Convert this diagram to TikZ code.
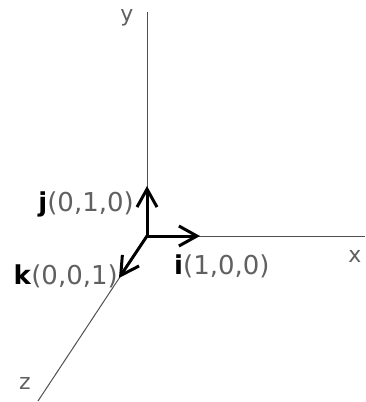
\documentclass[tikz,border=0pt]{standalone}
\usepackage{fontspec}
\setmainfont{DejaVu Sans}
\usetikzlibrary{arrows.meta}
\definecolor{axisgray}{HTML}{505050}
\definecolor{txtgray}{HTML}{606060}
\tikzset{
  axis/.style={draw=axisgray, line width=1pt},
  unitvec/.style={draw=black, line width=3pt, -{Straight Barb[length=18pt,width=20pt,line width=3pt]}},
  lbl/.style={inner sep=0pt, text=txtgray, font=\fontsize{26}{30}\selectfont},
  axlbl/.style={inner sep=0pt, text=txtgray, font=\fontsize{22}{26}\selectfont}
}
\begin{document}
\begin{tikzpicture}[x=1pt,y=-1pt]
\useasboundingbox (0,0) rectangle (365,402);
\coordinate (O) at (147,236);
\coordinate (Ytop) at (147,12);
\coordinate (Xend) at (365,236);
\coordinate (Zend) at (38,401);
\coordinate (I) at (200,236);
\coordinate (J) at (147,186);
\coordinate (K) at (119,278);
\draw[axis] (O) -- (Ytop);
\draw[axis] (O) -- (Xend);
\draw[axis] (O) -- (Zend);
\draw[unitvec] (O) -- (I);
\draw[unitvec] (O) -- (J);
\draw[unitvec] (O) -- (K);
\node[axlbl] (ly) at (127,18) {y};
\node[axlbl] (lx) at (355,256) {x};
\node[axlbl] (lz) at (25,383) {z};
\node[lbl, anchor=east] (lj) at (134,204) {\textcolor{black}{\textbf{j}}(0,1,0)};
\node[lbl, anchor=west] (li) at (174,266) {\textcolor{black}{\textbf{i}}(1,0,0)};
\node[lbl, anchor=east] (lk) at (118,276) {\textcolor{black}{\textbf{k}}(0,0,1)};
\end{tikzpicture}
\end{document}
